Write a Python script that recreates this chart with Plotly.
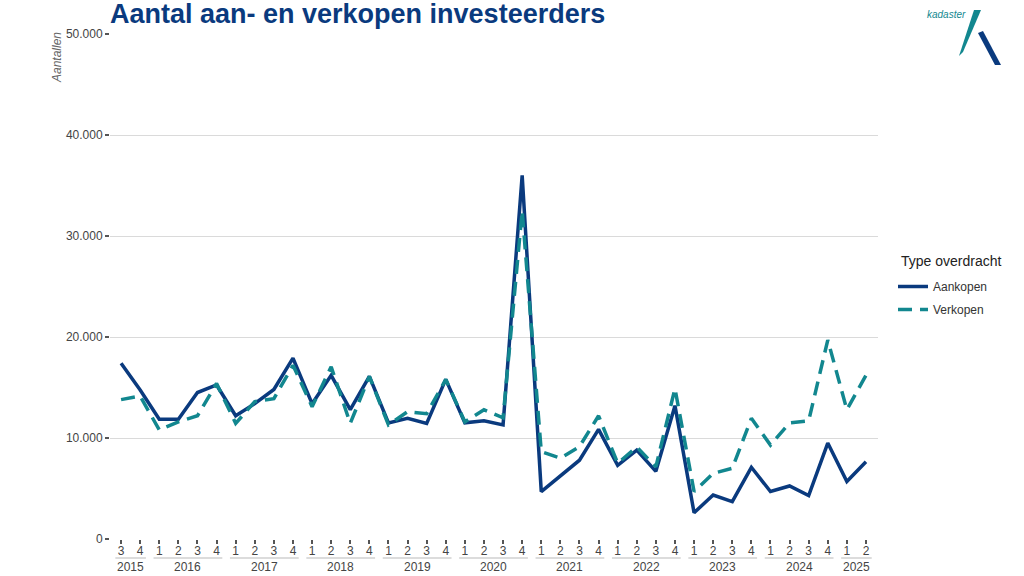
import plotly.graph_objects as go

years = [2015]*2 + [y for y in range(2016, 2025) for _ in range(4)] + [2025]*2
quarters = [3, 4] + [1, 2, 3, 4]*9 + [1, 2]

aankopen = [17400, 14750,
            11850, 11850, 14500, 15250,
            12200, 13400, 14800, 17900,
            13400, 16200, 12800, 16100,
            11500, 11950, 11450, 15800,
            11500, 11700, 11300, 36000,
            4700, 6250, 7800, 10850,
            7300, 8800, 6700, 13200,
            2600, 4350, 3700, 7100,
            4700, 5250, 4300, 9500,
            5700, 7650]

verkopen = [13800, 14150,
            10800, 11600, 12200, 15400,
            11450, 13600, 13900, 17200,
            13100, 17050, 11450, 16100,
            11300, 12600, 12400, 15800,
            11600, 12800, 12000, 32500,
            8650, 8000, 9150, 12200,
            7500, 9100, 7150, 14900,
            4700, 6500, 7000, 11950,
            9300, 11500, 11700, 19700,
            12800, 16200]

y_ticks = [0, 10000, 20000, 30000, 40000, 50000]
y_ticktext = ["0", "10.000", "20.000", "30.000", "40.000", "50.000"]

NAVY = "#0a3a7e"
TEAL = "#12878f"

idx = list(range(len(quarters)))

fig = go.Figure()
fig.add_trace(go.Scatter(x=idx, y=aankopen, mode="lines", name="Aankopen", legendgroup="a",
                         line=dict(color=NAVY, width=3.5)))
fig.add_trace(go.Scatter(x=idx, y=verkopen, mode="lines", name="Verkopen", legendgroup="b",
                         line=dict(color=TEAL, width=3.5, dash="14px,8px")))

W, H = 1024, 576
L, R, T, B = 110, 146, 34, 37
pw, ph = W - L - R, H - T - B

def px2paper(px, py):
    return (px - L) / pw, (H - B - py) / ph

annotations = []
shapes = []
uniq_years = []
for y in years:
    if y not in uniq_years:
        uniq_years.append(y)
_, y_year = px2paper(0, 567)
_, y_line = px2paper(0, 558)
for yr in uniq_years:
    ii = [i for i, y in enumerate(years) if y == yr]
    lo, hi = min(ii), max(ii)
    annotations.append(dict(x=(lo + hi) / 2, y=y_year, xref="x", yref="paper",
                            text=str(yr), showarrow=False, yanchor="middle",
                            font=dict(size=12, color="#444444")))
    shapes.append(dict(type="line", xref="x", yref="paper", x0=lo - 0.3, x1=hi + 0.3,
                       y0=y_line, y1=y_line, line=dict(color="#d0d0d0", width=1.5)))

# y axis title
ax, ay = px2paper(57, 58)
annotations.append(dict(x=ax, y=ay, xref="paper", yref="paper", text="<i>Aantallen</i>",
                        textangle=-90, showarrow=False, xanchor="center", yanchor="middle",
                        font=dict(size=12, color="#666666")))

# legend title
ltx, lty = px2paper(899, 261)
annotations.append(dict(x=ltx, y=lty, xref="paper", yref="paper", text="Type overdracht",
                        showarrow=False, xanchor="left", yanchor="middle",
                        font=dict(size=14, color="#222222")))

# logo
lx, ly = px2paper(946, 15)
annotations.append(dict(x=lx, y=ly, xref="paper", yref="paper", text="<i>kadaster</i>",
                        showarrow=False, xanchor="center", yanchor="middle",
                        font=dict(size=10, color=TEAL, family="Liberation Sans Narrow, Liberation Sans")))

def poly(points):
    pts = [px2paper(x, y) for x, y in points]
    return "M " + " L ".join(f"{x:.5f},{y:.5f}" for x, y in pts) + " Z"

shapes.append(dict(type="path", xref="paper", yref="paper",
                   path=poly([(974, 10), (981, 10), (963, 52), (959, 56)]),
                   fillcolor=TEAL, line=dict(width=0)))
shapes.append(dict(type="path", xref="paper", yref="paper",
                   path=poly([(978, 33), (983, 31), (1001, 65), (995, 65)]),
                   fillcolor=NAVY, line=dict(width=0)))

lgx, lgy = px2paper(893, 272)

fig.update_layout(
    width=W, height=H,
    margin=dict(l=L, r=R, t=T, b=B),
    paper_bgcolor="white", plot_bgcolor="white",
    font=dict(family="Liberation Sans, Arial, sans-serif", color="#444444"),
    title=dict(text="<b>Aantal aan- en verkopen investeerders</b>",
               x=L / W, xanchor="left", y=1 - 14 / H, yanchor="middle",
               font=dict(size=27, color=NAVY, family="Liberation Sans, Arial, sans-serif")),
    xaxis=dict(range=[-0.58, 39.63], tickmode="array", tickvals=idx,
               ticktext=[str(q) for q in quarters], showgrid=False, zeroline=False,
               ticks="outside", ticklen=4, tickwidth=1.5, tickcolor="#555555",
               ticklabelstandoff=-3,
               tickfont=dict(size=12, color="#444444"), showline=False),
    yaxis=dict(range=[0, 50000], tickmode="array", tickvals=y_ticks, ticktext=y_ticktext,
               showgrid=True, gridcolor="#dadada", gridwidth=1, zeroline=False,
               ticks="outside", ticklen=4, tickwidth=1.5, tickcolor="#555555",
               tickfont=dict(size=12, color="#444444"), showline=False),
    legend=dict(x=lgx, xanchor="left", y=lgy, yanchor="top",
                font=dict(size=12, color="#333333"), tracegroupgap=4),
    annotations=annotations, shapes=shapes,
    showlegend=True,
)

fig.write_html("out.html", config={"displayModeBar": False},
               post_script="document.body.style.margin='0';")
